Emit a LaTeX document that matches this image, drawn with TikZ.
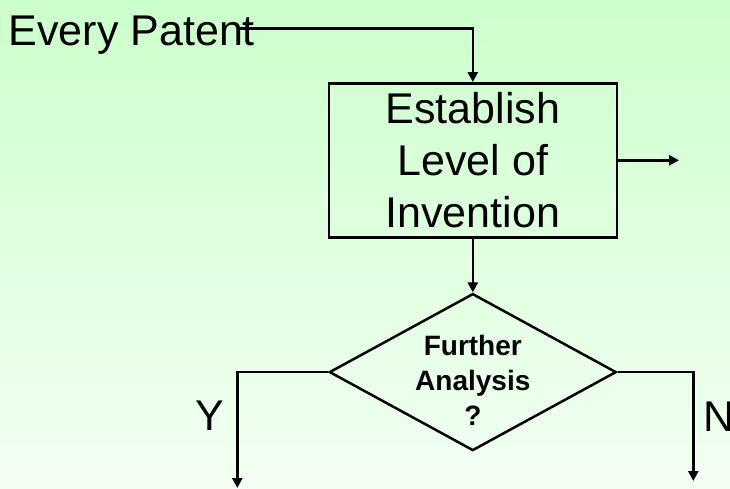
\documentclass[tikz,border=0pt]{standalone}
\usepackage{fontspec}
\setmainfont{Liberation Sans}
\usetikzlibrary{shapes.geometric,arrows.meta}
\definecolor{bgtop}{RGB}{204,255,204}
\definecolor{bgbot}{RGB}{243,255,243}
\begin{document}
\begin{tikzpicture}[x=1pt,y=-1pt,
  bigtext/.style={font=\fontsize{43}{52.3}\selectfont, inner sep=0pt},
  smalltext/.style={font=\fontsize{28}{35}\selectfont\bfseries, inner sep=0pt, align=center},
  flow/.style={line width=2.5pt, -{Triangle[length=10pt,width=10pt]}},
  procbox/.style={draw, line width=2.5pt, minimum width=288pt, minimum height=154pt,
    align=center, font=\fontsize{43}{52.3}\selectfont, inner sep=0pt},
  decision/.style={draw, diamond, line width=2.5pt, minimum width=287pt,
    minimum height=157pt, inner sep=0pt}]
  % background
  \useasboundingbox (0,0) rectangle (730,488);
  \fill[top color=bgtop, bottom color=bgbot] (0,0) rectangle (730,488);

  % nodes
  \node[bigtext, anchor=base west] (ep) at (8.6,45.7) {Every Patent};
  \node[procbox] (box) at (472.8,160.3) {Establish\\Level of\\Invention};
  \node[decision] (dia) at (472.8,372.1) {};
  \node[smalltext, anchor=base] (q) at (472.8,425) {Further\\Analysis\\?};
  \node[bigtext, anchor=base] (yes) at (210,430.7) {Y};
  \node[bigtext, anchor=base west] (no) at (703.4,431.7) {N};

  % free ends of connectors
  \coordinate (epEnd) at (240,28.3);
  \coordinate (outR) at (679,160.3);
  \coordinate (yTurn) at (237.3,372.1);
  \coordinate (yEnd) at (237.3,488);
  \coordinate (nTurn) at (693.3,372.1);
  \coordinate (nEnd) at (693.3,481);

  % connectors
  \draw[flow] (epEnd) -| (box.north);
  \draw[flow] (box.east) -- (outR);
  \draw[flow] (box.south) -- (dia.north);
  \draw[flow] (dia.west) -- (yTurn) -- (yEnd);
  \draw[flow] (dia.east) -- (nTurn) -- (nEnd);
\end{tikzpicture}
\end{document}
